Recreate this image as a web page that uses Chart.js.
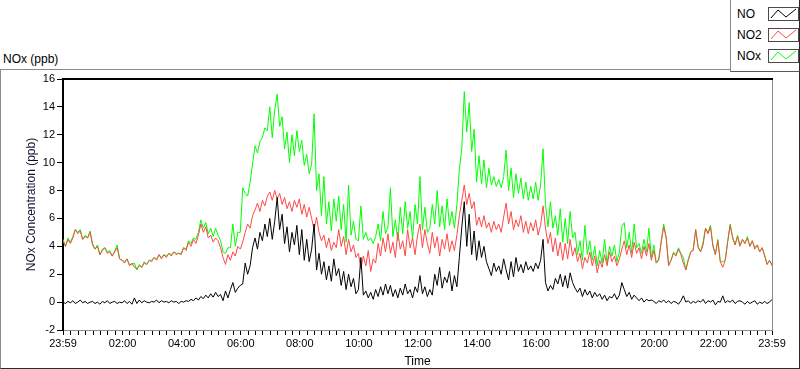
<!DOCTYPE html>
<html>
<head>
<meta charset="utf-8">
<title>NOx (ppb)</title>
<script src="https://cdn.jsdelivr.net/npm/chart.js@4.4.1/dist/chart.umd.min.js"></script>
<style>
  html, body { margin: 0; padding: 0; background: #fff; }
  body { width: 800px; height: 369px; position: relative; overflow: hidden;
         font-family: 'Liberation Sans', Arial, sans-serif; color: #000; }
  #frame { position: absolute; left: 0; top: 69px; width: 798px; height: 298px;
           border-top: 1px solid #8a8a8a; border-left: 1px solid #8a8a8a;
           border-right: 1px solid #2a2a2a; border-bottom: 1px solid #2a2a2a; }
  #unit { position: absolute; left: 3px; top: 52px; font-size: 12px; }
  #noxChart { position: absolute; left: 0; top: 0; }
  #legend { position: absolute; left: 730px; top: 0; width: 68px; height: 71px; background: #fff;
            border-left: 1px solid #8a8a8a; border-bottom: 1px solid #5a5a5a; border-right: 1px solid #2a2a2a; }
  .item { position: absolute; left: 6px; height: 14px; width: 62px; font-size: 12px; line-height: 14px; }
  .item svg { position: absolute; left: 31px; top: 0; }
</style>
</head>
<body>
<div id="frame"></div>
<div id="unit">NOx (ppb)</div>
<canvas id="noxChart" width="800" height="369"></canvas>
<div id="legend"></div>
<script>
'use strict';

/* ── Data (5-minute samples, 23:59 → 23:59) ─────────────────────── */
var seriesNames  = ['NO', 'NO2', 'NOx'];
var seriesColors = ['#000000', '#ff4848', '#00ff00'];

var noValues = [
  0.0, -0.1, 0.05, -0.05, 0.1, -0.1, 0.0, 0.15, -0.05, 0.05, -0.1, 0.0,
  0.05, -0.1, 0.0, -0.15, 0.05, -0.05, 0.1, -0.1, 0.0, 0.05, -0.1, 0.0,
  -0.05, 0.1, -0.1, 0.05, -0.15, 0.3, -0.1, 0.15, -0.05, 0.1, 0.0, -0.05,
  0.05, 0.0, 0.15, -0.05, 0.1, 0.0, 0.05, -0.05, 0.1, 0.0, 0.05, -0.1,
  0.05, 0.0, 0.1, 0.05, 0.2, 0.1, 0.3, 0.15, 0.4, 0.25, 0.5, 0.3,
  0.6, 0.35, 0.7, 0.4, 0.55, 0.1, 0.8, 0.3, 0.9, 1.4, 0.7, 1.0,
  1.2, 1.3, 2.8, 2.0, 2.6, 3.9, 4.6, 3.8, 5.0, 4.4, 5.6, 4.7,
  6.0, 4.5, 5.8, 7.5, 5.2, 6.3, 4.2, 5.4, 3.6, 5.0, 4.1, 5.5,
  3.4, 5.2, 3.0, 4.5, 2.9, 3.8, 5.6, 2.3, 3.5, 2.0, 2.9, 1.6,
  2.6, 1.5, 3.1, 1.9, 2.4, 1.2, 2.2, 0.9, 2.0, 1.1, 1.7, 0.6,
  0.9, 3.2, 0.5, 0.8, 0.3, 0.7, 0.2, 0.9, 0.4, 1.1, 0.5, 1.3,
  0.6, 1.2, 0.4, 0.9, 0.3, 1.0, 0.5, 1.3, 0.6, 0.9, 0.3, 1.1,
  0.7, 1.9, 0.6, 1.1, 0.4, 0.9, 0.5, 2.0, 1.2, 2.5, 1.0, 1.8,
  1.4, 2.2, 0.8, 1.9, 1.1, 3.2, 5.4, 7.2, 4.0, 6.3, 3.4, 5.1,
  3.0, 4.4, 3.2, 4.0, 2.9, 2.4, 1.9, 2.8, 2.2, 2.6, 2.0, 3.1,
  2.3, 1.6, 2.9, 1.8, 3.2, 2.2, 2.7, 2.1, 2.9, 2.3, 2.6, 2.2,
  2.8, 2.4, 3.0, 4.5, 1.4, 0.8, 1.2, 0.9, 1.7, 1.3, 2.0, 1.1,
  1.9, 1.0, 2.1, 1.4, 1.0, 0.7, 1.0, 0.4, 0.9, 0.5, 0.8, 0.3,
  0.7, 0.4, 0.6, 0.2, 0.5, 0.1, 0.4, 0.3, 0.6, 0.2, 0.5, 1.4,
  0.9, 0.4, 0.7, 0.2, 0.5, 0.3, 0.1, 0.3, 0.0, 0.2, 0.1, 0.15,
  0.05, -0.1, 0.1, 0.0, 0.15, -0.05, 0.1, -0.1, 0.05, 0.0, -0.15, 0.1,
  0.45, 0.0, 0.1, -0.1, 0.05, -0.05, 0.1, 0.0, 0.2, -0.1, 0.1, 0.0,
  0.15, -0.2, 0.05, 0.0, 0.45, -0.05, 0.1, 0.0, 0.15, -0.1, 0.05, 0.1,
  0.0, -0.15, 0.05, -0.1, 0.0, 0.1, -0.15, 0.0, -0.1, 0.05, -0.1, 0.0, 0.2
];

var no2Values = [
  4.4, 4.0, 4.5, 4.2, 4.6, 5.2, 4.9, 5.1, 4.5, 4.7, 4.6, 5.0,
  4.1, 3.8, 4.0, 3.4, 3.7, 3.9, 3.5, 3.6, 3.3, 3.6, 3.9, 3.1,
  3.0, 2.8, 3.1, 2.6, 2.8, 2.5, 2.4, 2.6, 2.5, 2.8, 2.7, 3.0,
  2.9, 3.2, 3.0, 3.4, 3.1, 3.4, 3.2, 3.5, 3.3, 3.6, 3.4, 3.5,
  3.4, 3.9, 3.7, 4.3, 4.0, 4.5, 4.2, 4.8, 5.6, 5.0, 5.4, 4.6,
  4.8, 4.3, 4.6, 4.4, 3.9, 3.2, 2.7, 3.4, 3.0, 3.6, 3.3, 4.0,
  3.8, 4.3, 5.0, 5.6, 5.3, 6.2, 6.6, 7.1, 6.5, 7.3, 6.9, 7.6,
  7.9, 7.3, 8.0, 7.4, 7.8, 7.0, 7.5, 6.7, 7.2, 6.5, 7.3, 6.8,
  7.4, 6.3, 7.0, 6.1, 6.8, 6.0, 5.2, 6.1, 5.0, 4.4, 4.8, 3.9,
  4.6, 3.7, 4.3, 3.9, 5.2, 4.0, 4.7, 3.4, 4.5, 3.6, 4.1, 3.2,
  3.5, 2.4, 3.3, 2.6, 3.7, 2.2, 3.1, 2.8, 4.2, 3.3, 4.6, 3.6,
  4.9, 3.5, 4.3, 3.2, 5.0, 3.8, 4.4, 3.3, 5.2, 3.9, 4.6, 3.4,
  4.8, 5.6, 3.9, 5.2, 4.2, 3.5, 5.0, 3.9, 4.7, 3.3, 4.5, 3.8,
  4.9, 3.6, 4.4, 3.7, 4.8, 6.2, 7.3, 8.4, 7.0, 7.8, 6.7, 7.2,
  5.5, 6.1, 5.4, 6.2, 5.3, 5.7, 5.0, 5.8, 5.2, 5.6, 5.0, 6.1,
  7.1, 5.6, 6.5, 5.2, 5.9, 5.4, 6.2, 5.0, 5.8, 4.9, 5.7, 5.1,
  5.9, 4.8, 5.5, 6.9, 5.3, 4.2, 5.0, 3.6, 4.6, 3.3, 4.3, 3.0,
  4.2, 3.1, 4.5, 3.3, 3.9, 2.9, 3.5, 2.4, 3.2, 2.8, 3.6, 2.6,
  3.3, 2.1, 3.0, 2.5, 3.4, 2.6, 3.6, 2.9, 3.3, 2.6, 3.1, 3.8,
  4.4, 3.4, 4.1, 3.2, 4.3, 3.5, 3.9, 3.1, 4.0, 3.3, 4.2, 3.0,
  3.7, 2.8, 3.0, 4.3, 5.4, 4.6, 2.6, 3.0, 3.5, 3.3, 3.8, 3.4,
  2.8, 2.3, 3.0, 3.6, 3.7, 5.2, 3.9, 3.6, 4.1, 5.3, 4.9, 5.4,
  4.0, 3.4, 4.4, 2.9, 2.5, 3.0, 4.3, 5.5, 4.6, 4.1, 4.7, 4.0,
  4.5, 4.2, 4.6, 4.0, 4.4, 3.8, 4.1, 3.6, 3.9, 3.3, 2.7, 3.0, 2.6
];

var noxValues = [
  4.5, 4.0, 4.6, 4.3, 4.7, 5.2, 5.0, 5.2, 4.5, 4.8, 4.6, 5.1,
  4.2, 3.8, 4.1, 3.4, 3.8, 3.9, 3.6, 3.7, 3.3, 3.7, 4.1, 3.1,
  3.0, 2.9, 3.1, 2.7, 2.7, 2.8, 2.3, 2.7, 2.5, 2.9, 2.7, 3.0,
  3.0, 3.2, 3.1, 3.4, 3.2, 3.4, 3.3, 3.5, 3.4, 3.6, 3.5, 3.5,
  3.5, 3.9, 3.8, 4.4, 4.2, 4.6, 4.5, 5.0, 5.9, 5.3, 5.7, 4.9,
  5.3, 4.7, 5.3, 4.8, 4.4, 3.6, 3.5, 3.9, 3.9, 5.6, 4.0, 5.0,
  5.0, 8.2, 7.8, 7.6, 8.6, 9.9, 11.2, 10.7, 11.5, 11.8, 12.5, 12.3,
  14.0, 11.8, 13.8, 14.9, 12.6, 13.3, 11.0, 12.2, 10.0, 12.0, 10.5, 12.3,
  10.8, 11.6, 9.8, 10.6, 9.2, 9.9, 13.5, 8.0, 9.2, 6.2, 9.0, 5.6,
  7.2, 5.1, 7.4, 5.8, 7.6, 5.2, 7.0, 4.3, 8.4, 4.8, 5.8, 4.5,
  4.4, 6.9, 4.5, 5.0, 4.4, 4.6, 4.2, 4.7, 5.6, 4.4, 6.5, 4.9,
  5.4, 8.2, 4.7, 5.9, 4.4, 6.8, 4.9, 7.2, 5.3, 6.5, 4.5, 7.0,
  5.6, 9.0, 5.2, 6.8, 5.0, 5.3, 7.0, 5.6, 8.0, 5.4, 6.9, 5.2,
  7.4, 5.5, 6.5, 5.3, 7.0, 9.5, 11.0, 15.1, 12.2, 14.3, 10.8, 12.4,
  8.6, 10.5, 8.5, 10.2, 8.2, 9.6, 8.4, 9.0, 8.3, 8.8, 8.2, 9.0,
  10.9, 8.0, 9.6, 7.5, 9.2, 7.8, 8.9, 7.4, 8.6, 7.3, 8.3, 7.4,
  8.6, 7.3, 8.4, 11.0, 7.0, 5.4, 7.2, 5.3, 6.2, 4.8, 6.7, 4.3,
  6.0, 4.2, 6.5, 4.6, 5.0, 3.4, 4.4, 3.0, 5.5, 3.4, 4.4, 3.0,
  4.0, 2.6, 3.7, 2.8, 4.5, 2.8, 4.0, 3.3, 4.1, 2.9, 3.6, 5.4,
  5.7, 3.9, 5.0, 3.5, 5.6, 3.9, 4.2, 3.5, 4.5, 3.6, 5.3, 3.2,
  4.1, 2.8, 3.1, 4.4, 5.6, 4.7, 2.7, 3.0, 3.6, 3.4, 3.9, 3.5,
  3.2, 2.3, 3.1, 3.6, 3.8, 5.2, 4.0, 3.6, 4.3, 5.3, 5.0, 5.5,
  4.1, 3.4, 4.5, 2.9, 2.9, 3.0, 4.4, 5.6, 4.7, 4.1, 4.8, 4.1,
  4.5, 4.2, 4.7, 4.0, 4.4, 3.9, 4.1, 3.6, 3.9, 3.4, 2.7, 3.0, 2.7
];

/* x axis: minutes since 23:59 */
var sampleMinutes = [];
for (var m = 0; m <= 1440; m += 5) sampleMinutes.push(m);

var majorTickMinutes = [0, 121, 241, 361, 481, 601, 721, 841, 961, 1081, 1201, 1321, 1440];
var majorTickLabels  = ['23:59', '02:00', '04:00', '06:00', '08:00', '10:00', '12:00',
                        '14:00', '16:00', '18:00', '20:00', '22:00', '23:59'];
var yMin = -2, yMax = 16, yStep = 2;

/* ── Legend (HTML, LabVIEW style plot icons) ─────── */
(function buildLegend() {
  var box = document.getElementById('legend');
  var tops = [7, 28, 49];
  seriesNames.forEach(function (name, i) {
    var row = document.createElement('div');
    row.className = 'item';
    row.style.top = tops[i] + 'px';
    row.innerHTML = '<span>' + name + '</span>' +
      '<svg width="31" height="14" viewBox="0 0 31 14">' +
      '<rect x="0.5" y="0.5" width="30" height="13" fill="#fff" stroke="#4a4a4a"/>' +
      '<polyline points="3,11 10,3 18,10 28,2" fill="none" stroke="' + seriesColors[i] + '" stroke-width="1"/>' +
      '</svg>';
    box.appendChild(row);
  });
})();

/* ── Plot frame: black top edge, grey right edge ─── */
var plotFrame = {
  id: 'plotFrame',
  afterDraw: function (chart) {
    var a = chart.chartArea, ctx = chart.ctx;
    ctx.save();
    ctx.strokeStyle = '#000';
    ctx.lineWidth = 2;
    ctx.beginPath(); ctx.moveTo(a.left - 1, a.top); ctx.lineTo(a.right + 1, a.top); ctx.stroke();
    ctx.strokeStyle = '#8c8c8c';
    ctx.lineWidth = 1;
    ctx.beginPath(); ctx.moveTo(Math.round(a.right) + 0.5, a.top + 1); ctx.lineTo(Math.round(a.right) + 0.5, a.bottom); ctx.stroke();
    ctx.restore();
  }
};

var tickFont  = { family: "'Liberation Sans', Arial, sans-serif", size: 11 };
var titleFont = { family: "'Liberation Sans', Arial, sans-serif", size: 12 };

var datasets = [noValues, no2Values, noxValues].map(function (vals, i) {
  return {
    label: seriesNames[i],
    data: vals,
    borderColor: seriesColors[i],
    backgroundColor: seriesColors[i],
    borderWidth: 1,
    pointRadius: 0,
    tension: 0,
    fill: false
  };
});

new Chart(document.getElementById('noxChart'), {
  type: 'line',
  data: { labels: sampleMinutes, datasets: datasets },
  plugins: [plotFrame],
  options: {
    responsive: false,
    animation: false,
    devicePixelRatio: 1,
    events: [],
    layout: { padding: { top: 79, right: 28, bottom: 0, left: 0 } },
    plugins: { legend: { display: false }, tooltip: { enabled: false } },
    scales: {
      x: {
        type: 'linear',
        min: 0, max: 1440,
        afterBuildTicks: function (scale) {
          var all = majorTickMinutes.slice();
          for (var t = 16; t < 1430; t += 15) if (all.indexOf(t) < 0) all.push(t);
          all.sort(function (a, b) { return a - b; });
          scale.ticks = all.map(function (v) { return { value: v }; });
        },
        afterFit: function (scale) { scale.height = 39; },
        ticks: {
          autoSkip: false, maxRotation: 0, padding: 2, color: '#000', font: tickFont,
          callback: function (v) {
            var k = majorTickMinutes.indexOf(v);
            return k >= 0 ? majorTickLabels[k] : '';
          }
        },
        grid: { drawOnChartArea: false, drawTicks: true, tickLength: 5, tickColor: '#000', tickWidth: 1 },
        border: { display: true, color: '#8c8c8c', width: 1 },
        title: { display: true, text: 'Time', color: '#000', font: titleFont, padding: { top: 0, bottom: 0 } }
      },
      y: {
        min: yMin, max: yMax,
        afterFit: function (scale) { scale.width = 63; },
        ticks: { stepSize: yStep, padding: 2, color: '#000', font: tickFont },
        grid: { drawOnChartArea: false, drawTicks: true, tickLength: 6, tickColor: '#000', tickWidth: 1 },
        border: { display: true, color: '#000', width: 2 },
        title: { display: true, text: 'NOx Concentration (ppb)', color: '#101030', font: titleFont, padding: { top: 24, bottom: 0 } }
      }
    }
  }
});
</script>
</body>
</html>
